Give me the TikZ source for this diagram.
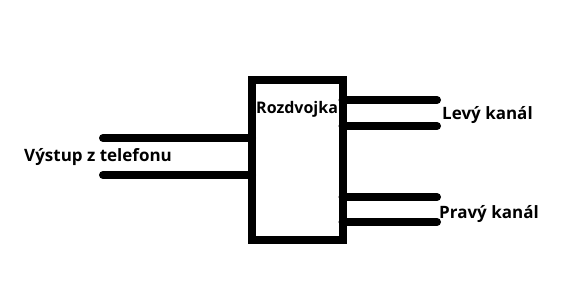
\documentclass[tikz,border=0pt]{standalone}
\usepackage{fontspec}
\setmainfont{Open Sans}
\usetikzlibrary{positioning}

\begin{document}
\begin{tikzpicture}[
  x=1pt, y=-1pt,
  font=\fontsize{17}{20}\selectfont\bfseries,
  block/.style={draw, line width=8pt, inner sep=0pt, outer sep=0pt,
                minimum width=90.5pt, minimum height=159.5pt},
  wire/.style={line width=8pt, line cap=round},
  lbl/.style={anchor=base west, inner sep=0pt}
]
\useasboundingbox (0,0) rectangle (588,290);
\node[block] (box) at (297.25,159.75) {};
\node[lbl, font=\fontsize{16}{19}\selectfont\bfseries] (name) at (256,113) {Rozdvojka};
% vstup
\coordinate (inA) at (103,138);
\coordinate (inB) at (103,175);
\draw[wire] (inA) -- (inA -| box.west);
\draw[wire] (inB) -- (inB -| box.west);
\node[lbl] (src) at (24,161) {Výstup z telefonu};
% vystupy
\coordinate (outA) at (437,100);
\coordinate (outB) at (437,126);
\coordinate (outC) at (437,197);
\coordinate (outD) at (437,222);
\foreach \p in {outA,outB,outC,outD}
  \draw[wire] (box.east |- \p) -- (\p);
\node[lbl] (left) at (442,119) {Levý kanál};
\node[lbl] (right) at (439,218) {Pravý kanál};
\end{tikzpicture}
\end{document}
